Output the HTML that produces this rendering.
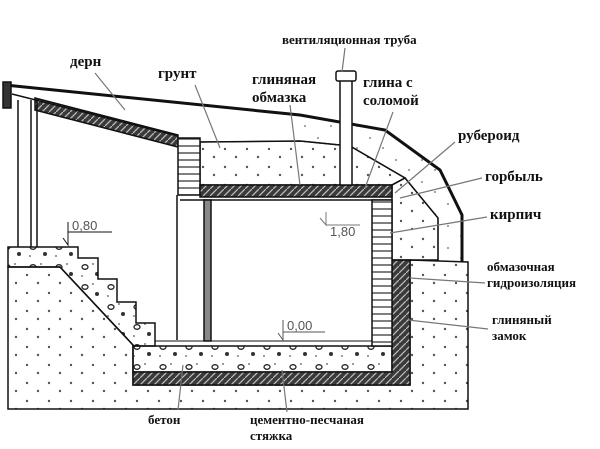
<!DOCTYPE html>
<html><head><meta charset="utf-8"><style>
html,body{margin:0;padding:0;background:#fff;}
svg{display:block}
.t{font-family:"Liberation Serif","Noto Serif CJK SC",serif;font-weight:bold;fill:#111;font-size:15px}
.s{font-size:13px}
.d{font-family:"Liberation Sans",sans-serif;font-size:13px;fill:#555}
</style></head><body>
<svg width="600" height="449" viewBox="0 0 600 449" xmlns="http://www.w3.org/2000/svg">
<defs>
<pattern id="dots" width="22" height="18" patternUnits="userSpaceOnUse">
<circle cx="5" cy="5" r="1.2" fill="#555"/><circle cx="16" cy="13" r="1.2" fill="#555"/></pattern>
<pattern id="dots2" width="26" height="22" patternUnits="userSpaceOnUse">
<circle cx="6" cy="6" r="1" fill="#888"/><circle cx="19" cy="16" r="1" fill="#888"/></pattern>
<pattern id="conc" width="26" height="20" patternUnits="userSpaceOnUse">
<ellipse cx="7" cy="7" rx="3" ry="2.3" fill="none" stroke="#222" stroke-width="1.3"/>
<circle cx="19" cy="14" r="2" fill="#333"/><circle cx="15" cy="4" r="0.9" fill="#555"/><circle cx="4" cy="16" r="0.9" fill="#555"/></pattern>
<pattern id="hatch" width="7" height="7" patternUnits="userSpaceOnUse">
<rect width="7" height="7" fill="#3a3a3a"/><path d="M0 7 L7 0" stroke="#bbb" stroke-width="1.3"/></pattern>
<pattern id="brick" width="20" height="7" patternUnits="userSpaceOnUse">
<rect width="20" height="7" fill="#fff"/><line x1="0" y1="6" x2="20" y2="6" stroke="#333" stroke-width="1.3"/></pattern>
</defs>
<g stroke="#111" stroke-width="1.5" fill="none">
<!-- ground -->
<path d="M8 267 L60 267 L133 345 L133 385 L410 385 L410 260 L468 262 L468 409 L8 409 Z" fill="url(#dots)"/>
<!-- stairs concrete -->
<path d="M8 247 L78 247 L78 258 L98 258 L98 279 L117 279 L117 302 L136 302 L136 323 L155 323 L155 346 L133 346 L133 345 L60 267 L8 267 Z" fill="url(#conc)"/>
<!-- floor -->
<rect x="133" y="346" width="259" height="26" fill="url(#conc)"/>
<path d="M133 372 L392 372 L392 260 L410 260 L410 385 L133 385 Z" fill="url(#hatch)"/>
<line x1="155" y1="341" x2="372" y2="341" stroke-width="1"/>
<!-- clay-straw layer between outer and inner lines -->
<path d="M300 115 L385 130 L440 170 L462 215 L462 262 L438 260 L438 218 L405 178 L350 146 L300 141 Z" fill="url(#dots2)" stroke="none"/>
<!-- right soil above ground -->
<path d="M392 200 L392 260 L438 260 L438 218 L405 178 L392 185 Z" fill="url(#dots)"/>
<!-- soil mound -->
<path d="M200 142 L300 141 L350 146 L405 178 L392 185 L200 185 Z" fill="url(#dots)"/>
<path d="M200 142 L300 141 L350 146 L405 178 L438 218 L438 260" stroke-width="1.2"/>
<!-- outer roof -->
<path d="M5 85 L300 115 L385 130 L440 170 L462 215 L462 262" stroke-width="3"/>
<rect x="3" y="82" width="8" height="26" fill="#333"/>
<!-- slope insulation -->
<path d="M35 98 L178 135 L178 147 L35 110 Z" fill="url(#hatch)"/>
<line x1="12" y1="94" x2="178" y2="136"/>
<!-- posts -->
<line x1="18" y1="100" x2="18" y2="247"/><line x1="31" y1="100" x2="31" y2="247"/><line x1="37" y1="100" x2="37" y2="247"/>
<!-- brick under slope -->
<rect x="178" y="138" width="22" height="57" fill="url(#brick)"/>
<!-- ceiling slab -->
<rect x="200" y="185" width="192" height="12" fill="url(#hatch)"/>
<line x1="180" y1="200" x2="392" y2="200"/>
<!-- room walls -->
<line x1="177" y1="195" x2="177" y2="340"/>
<rect x="204" y="200" width="7" height="141" fill="#888"/>
<rect x="372" y="200" width="20" height="146" fill="url(#brick)"/>
<!-- pipe -->
<rect x="340" y="78" width="12" height="107" fill="#fff"/>
<rect x="336" y="71" width="20" height="10" rx="2" fill="#fff"/>
<!-- level marks -->
<path d="M68 222 L68 245 L63 238 M68 232 L112 232" stroke-width="1"/>
<path d="M326 212 L326 225 L320 218 M326 225 L360 225" stroke-width="1" stroke="#777"/>
<path d="M283 320 L283 340 L278 333 M283 332 L325 332" stroke-width="1" stroke="#555"/>
</g>
<!-- leaders -->
<g stroke="#777" stroke-width="1.2">
<line x1="95" y1="73" x2="125" y2="110"/>
<line x1="195" y1="85" x2="220" y2="148"/>
<line x1="290" y1="105" x2="300" y2="185"/>
<line x1="345" y1="48" x2="342" y2="72"/>
<line x1="393" y1="112" x2="365" y2="188"/>
<line x1="455" y1="142" x2="395" y2="193"/>
<line x1="482" y1="178" x2="400" y2="198"/>
<line x1="487" y1="217" x2="390" y2="233"/>
<line x1="485" y1="283" x2="410" y2="278"/>
<line x1="488" y1="329" x2="408" y2="320"/>
<line x1="178" y1="410" x2="183" y2="365"/>
<line x1="287" y1="412" x2="282" y2="370"/>
</g>
<text class="t" x="70" y="66">дерн</text>
<text class="t" x="158" y="78">грунт</text>
<text class="t" x="252" y="84">глиняная</text>
<text class="t" x="252" y="102">обмазка</text>
<text class="t" x="363" y="87">глина с</text>
<text class="t" x="363" y="105">соломой</text>
<text class="t s" x="282" y="44">вентиляционная труба</text>
<text class="t" x="458" y="140">рубероид</text>
<text class="t" x="485" y="181">горбыль</text>
<text class="t" x="490" y="219">кирпич</text>
<text class="t s" x="487" y="271">обмазочная</text>
<text class="t s" x="487" y="287">гидроизоляция</text>
<text class="t s" x="492" y="324">глиняный</text>
<text class="t s" x="492" y="340">замок</text>
<text class="t s" x="148" y="424">бетон</text>
<text class="t s" x="250" y="424">цементно-песчаная</text>
<text class="t s" x="250" y="440">стяжка</text>
<text class="d" x="72" y="230" fill="#333">0,80</text>
<text class="d" x="330" y="236" fill="#666">1,80</text>
<text class="d" x="287" y="330">0,00</text>
</svg>
</body></html>
